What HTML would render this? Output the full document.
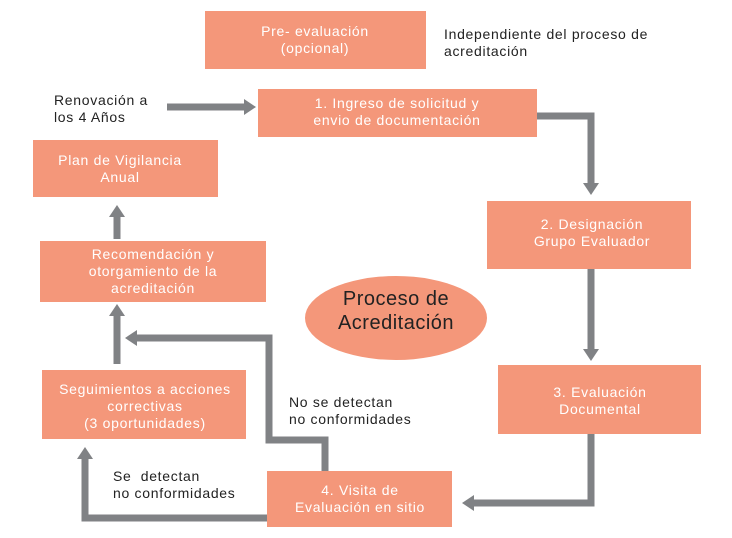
<!DOCTYPE html>
<html><head><meta charset="utf-8"><style>
html,body{margin:0;padding:0;background:#fff}
svg{display:block}
text{font-family:"Liberation Sans",sans-serif;letter-spacing:0.7px}
.b{fill:#F4977A}
.w{fill:#fff;font-size:14px;text-anchor:middle}
.k{fill:#222;font-size:14px}
.l{fill:none;stroke:#808285;stroke-width:7}
.a{fill:#808285}
</style></head><body>
<svg width="732" height="538" viewBox="0 0 732 538">
<rect class="b" x="205" y="11" width="221" height="58"/>
<text class="w" x="315" y="36">Pre- evaluación</text>
<text class="w" x="315" y="53">(opcional)</text>
<text class="k" x="444" y="39">Independiente del proceso de</text>
<text class="k" x="444" y="56">acreditación</text>

<text class="k" x="54" y="105">Renovación a</text>
<text class="k" x="54" y="122">los 4 Años</text>
<path class="l" d="M167 107H245"/><polygon class="a" points="244,99 256,107 244,115"/>

<rect class="b" x="258" y="89" width="279" height="48"/>
<text class="w" x="397" y="108">1. Ingreso de solicitud y</text>
<text class="w" x="397" y="125">envio de documentación</text>
<path class="l" d="M537 116H591V184"/><polygon class="a" points="583,183 599,183 591,195"/>

<rect class="b" x="487" y="201" width="204" height="68"/>
<text class="w" x="592" y="229">2. Designación</text>
<text class="w" x="592" y="246">Grupo Evaluador</text>
<path class="l" d="M591 269V350"/><polygon class="a" points="583,349 599,349 591,361"/>

<rect class="b" x="498" y="365" width="203" height="69"/>
<text class="w" x="600" y="397">3. Evaluación</text>
<text class="w" x="600" y="414">Documental</text>
<path class="l" d="M591 434V503H473"/><polygon class="a" points="474,495 474,511 462,503"/>

<rect class="b" x="267" y="471" width="185" height="56"/>
<text class="w" x="360" y="495">4. Visita de</text>
<text class="w" x="360" y="512">Evaluación en sitio</text>

<path class="l" d="M325 471V440H269V338H136"/><polygon class="a" points="137,330 137,346 125,338"/>
<text class="k" x="289" y="407">No se detectan</text>
<text class="k" x="289" y="424">no conformidades</text>

<path class="l" d="M267 518H85V458"/><polygon class="a" points="77,459 93,459 85,447"/>
<text class="k" x="113" y="481" xml:space="preserve">Se  detectan</text>
<text class="k" x="113" y="498">no conformidades</text>

<rect class="b" x="42" y="370" width="204" height="69"/>
<text class="w" x="145" y="394">Seguimientos a acciones</text>
<text class="w" x="145" y="411">correctivas</text>
<text class="w" x="145" y="428">(3 oportunidades)</text>
<path class="l" d="M117 364V315"/><polygon class="a" points="109,316 125,316 117,304"/>

<rect class="b" x="40" y="241" width="226" height="61"/>
<text class="w" x="153" y="259">Recomendación y</text>
<text class="w" x="153" y="276">otorgamiento de la</text>
<text class="w" x="153" y="293">acreditación</text>
<path class="l" d="M117 239V216"/><polygon class="a" points="109,217 125,217 117,205"/>

<rect class="b" x="33" y="140" width="185" height="57"/>
<text class="w" x="120" y="165">Plan de Vigilancia</text>
<text class="w" x="120" y="182">Anual</text>

<ellipse class="b" cx="396" cy="318" rx="91" ry="42"/>
<text x="396" y="305" style="fill:#222;font-size:20px;text-anchor:middle;letter-spacing:0.5px">Proceso de</text>
<text x="396" y="329" style="fill:#222;font-size:20px;text-anchor:middle;letter-spacing:0.5px">Acreditación</text>
</svg>
</body></html>
